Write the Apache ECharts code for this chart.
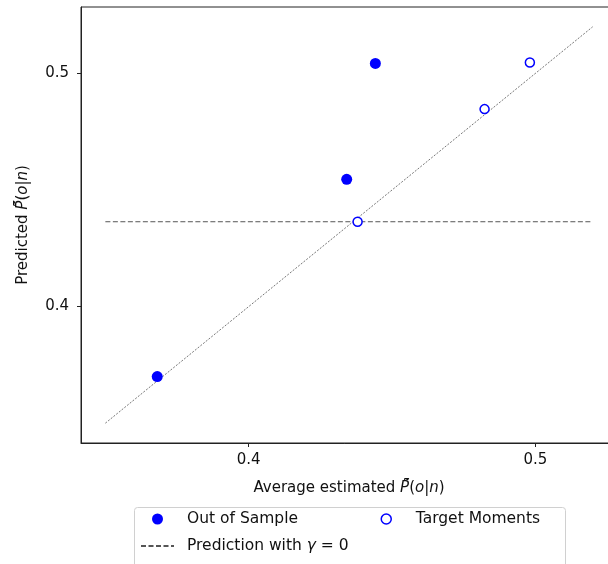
<!DOCTYPE html>
<html>
<head>
<meta charset="utf-8">
<script src="https://cdn.jsdelivr.net/npm/echarts@6/dist/echarts.min.js"></script>
<style>
  html, body { margin: 0; padding: 0; background: #fff; }
  #main { width: 608px; height: 564px; }
</style>
</head>
<body>
<div id="main"></div>
<script>
// data
var outX = [0.3681, 0.4342, 0.4442];     // Out of Sample
var outY = [0.3700, 0.4546, 0.5043];
var tgtX = [0.4380, 0.4823, 0.4981];     // Target Moments
var tgtY = [0.4364, 0.4847, 0.5047];
var diagX = [0.35, 0.52];                // 45 degree line
var gamma0X = [0.35, 0.52];              // prediction with gamma = 0
var gamma0Y = [0.4364, 0.4364];
var tickVals = [0.4, 0.5];
var axisMin = 0.3415, axisMax = 0.5285;

function pairs(xs, ys) {
  var out = [];
  for (var i = 0; i < xs.length; i++) out.push([xs[i], ys[i]]);
  return out;
}

var myChart = echarts.init(document.getElementById('main'), null, { renderer: 'canvas' });
var font = 'DejaVu Sans';
var option = {
  backgroundColor: '#fff',
  animation: false,
  textStyle: { fontFamily: font },
  grid: {
    left: 81, top: 7, width: 536, height: 436,
    outerBoundsMode: 'none', containLabel: false,
    show: true, borderColor: '#222', borderWidth: 1
  },
  graphic: [{
    type: 'rect', z: 0,
    shape: { x: 134.5, y: 507.5, width: 431, height: 80, r: 3 },
    style: { fill: '#fff', stroke: '#d0d0d0', lineWidth: 1 }
  }],
  legend: [
    {
      left: 140, top: 510, orient: 'vertical', padding: 0,
      itemWidth: 33, itemHeight: 11, itemGap: 9,
      data: ['Out of Sample', { name: 'Prediction with γ = 0', itemStyle: { opacity: 0 } }],
      formatter: function (name) {
        return name === 'Prediction with γ = 0' ? 'Prediction with {i|γ} = 0' : name;
      },
      textStyle: {
        fontFamily: font, fontSize: 15.5, lineHeight: 18, color: '#111', padding: [0, 0, 0, 8],
        rich: { i: { fontFamily: font, fontSize: 15.5, fontStyle: 'italic', color: '#111' } }
      }
    },
    {
      left: 380.5, top: 510, orient: 'vertical', padding: 0,
      itemWidth: 33, itemHeight: 10, itemGap: 9,
      itemStyle: { borderWidth: 1.5 },
      data: ['Target Moments'],
      textStyle: { fontFamily: font, fontSize: 15.5, lineHeight: 18, color: '#111', padding: [0, 0, 0, 8] }
    }
  ],
  xAxis: {
    type: 'value', min: axisMin, max: axisMax,
    name: 'Average estimated {i|P\u0304\u0303}({i|o}|{i|n})',
    nameLocation: 'middle', nameGap: 38,
    nameTextStyle: {
      fontFamily: font, fontSize: 15, color: '#111',
      rich: { i: { fontFamily: font, fontSize: 15, fontStyle: 'italic', color: '#111' } }
    },
    axisLine: { show: true, lineStyle: { color: '#222', width: 1 } },
    axisTick: { show: true, inside: false, length: 4, customValues: tickVals, lineStyle: { color: '#222' } },
    axisLabel: {
      customValues: tickVals, margin: 10, fontSize: 15, color: '#111', fontFamily: font,
      formatter: function (v) { return v.toFixed(1); }
    },
    splitLine: { show: false }
  },
  yAxis: {
    type: 'value', min: axisMin, max: axisMax,
    name: 'Predicted {i|P\u0304\u0303}({i|o}|{i|n})',
    nameLocation: 'middle', nameGap: 50,
    nameTextStyle: {
      fontFamily: font, fontSize: 15, color: '#111',
      rich: { i: { fontFamily: font, fontSize: 15, fontStyle: 'italic', color: '#111' } }
    },
    axisLine: { show: true, lineStyle: { color: '#222', width: 1 } },
    axisTick: { show: true, inside: false, length: 4, customValues: tickVals, lineStyle: { color: '#222' } },
    axisLabel: {
      customValues: tickVals, margin: 12, fontSize: 15, color: '#111', fontFamily: font,
      formatter: function (v) { return v.toFixed(1); }
    },
    splitLine: { show: false }
  },
  series: [
    {
      name: '45 degree',
      type: 'line',
      data: pairs(diagX, diagX),
      showSymbol: false, symbol: 'none',
      lineStyle: { color: '#777', width: 1, type: [2, 1.5] },
      silent: true, z: 1
    },
    {
      name: 'Prediction with γ = 0',
      type: 'line',
      data: pairs(gamma0X, gamma0Y),
      showSymbol: false, symbol: 'none',
      itemStyle: { color: '#555' },
      lineStyle: { color: '#555', width: 1, type: [5, 2.5] },
      silent: true, z: 1
    },
    {
      name: 'Out of Sample',
      type: 'scatter',
      data: pairs(outX, outY),
      symbol: 'circle', symbolSize: 11,
      itemStyle: { color: '#0000ff', opacity: 1 },
      z: 3
    },
    {
      name: 'Target Moments',
      type: 'scatter',
      data: pairs(tgtX, tgtY),
      symbol: 'circle', symbolSize: 9,
      itemStyle: { color: '#fff', borderColor: '#0000ff', borderWidth: 1.5, opacity: 1 },
      z: 3
    }
  ]
};
myChart.setOption(option);
</script>
</body>
</html>
